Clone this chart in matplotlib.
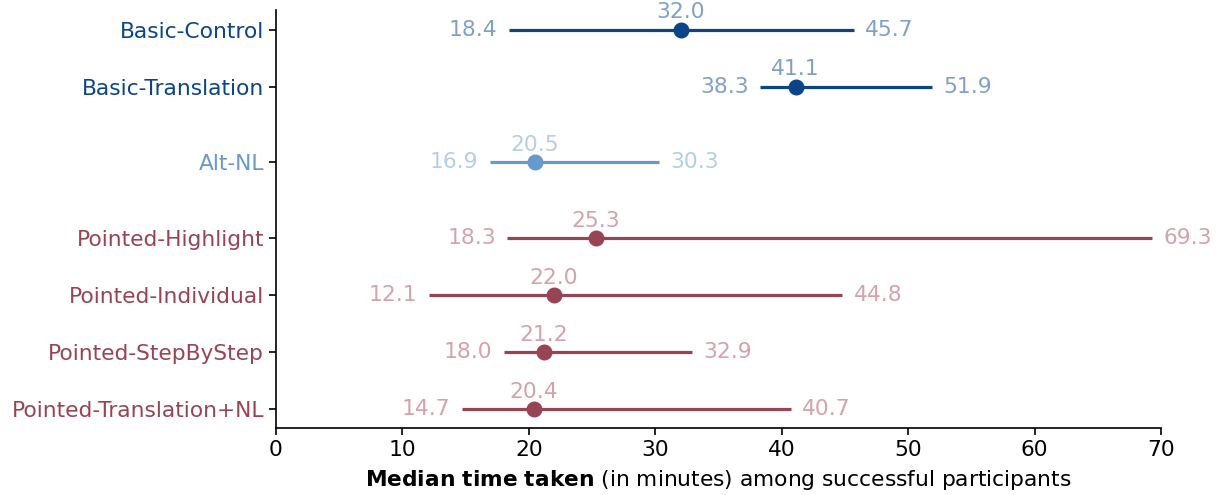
import matplotlib.pyplot as plt

conditions = ['Basic-Control', 'Basic-Translation', 'Alt-NL',
              'Pointed-Highlight', 'Pointed-Individual', 'Pointed-StepByStep',
              'Pointed-Translation+NL']
groups = ['basic', 'basic', 'alt', 'pointed', 'pointed', 'pointed', 'pointed']
lows = [18.4, 38.3, 16.9, 18.3, 12.1, 18.0, 14.7]
medians = [32.0, 41.1, 20.5, 25.3, 22.0, 21.2, 20.4]
highs = [45.7, 51.9, 30.3, 69.3, 44.8, 32.9, 40.7]

# row positions, with a wider gap between groups
ypos = [0, 1, 2.32, 3.66, 4.66, 5.66, 6.66]

line_colors = {'basic': '#0b4587', 'alt': '#6699cc', 'pointed': '#994455'}
text_colors = {'basic': '#7fa0c8', 'alt': '#b5cde6', 'pointed': '#d4a1ac'}

fig = plt.figure(figsize=(12.18, 4.95), dpi=100)
ax = fig.add_axes([0.2266, 0.135, 0.7266, 0.845])

fs = 15.7
for y, g, lo, med, hi in zip(ypos, groups, lows, medians, highs):
    lc = line_colors[g]
    tc = text_colors[g]
    ax.plot([lo, hi], [y, y], color=lc, linewidth=2.3, solid_capstyle='butt', zorder=2)
    ax.plot(med, y, 'o', color=lc, markersize=10.5, zorder=3)
    ax.text(lo - 0.9, y, f'{lo:.1f}', color=tc, fontsize=fs, ha='right', va='center')
    ax.text(hi + 0.9, y, f'{hi:.1f}', color=tc, fontsize=fs, ha='left', va='center')
    ax.text(med, y - 0.13, f'{med:.1f}', color=tc, fontsize=fs, ha='center', va='bottom')

ax.set_yticks(ypos)
ax.set_yticklabels(conditions, fontsize=fs)
for lbl, g in zip(ax.get_yticklabels(), groups):
    lbl.set_color(line_colors[g])

ax.set_ylim(6.99, -0.35)
ax.set_xlim(0, 70)
ax.set_xticks(range(0, 71, 10))
ax.tick_params(axis='x', labelsize=fs)
ax.tick_params(length=5, width=1.2)
for side in ['left', 'bottom']:
    ax.spines[side].set_linewidth(1.2)
ax.spines['top'].set_visible(False)
ax.spines['right'].set_visible(False)
ax.set_xlabel(r'$\bf{Median\ time\ taken}$ (in minutes) among successful participants',
              fontsize=fs, labelpad=6)

fig.savefig('out.png', dpi=100)
